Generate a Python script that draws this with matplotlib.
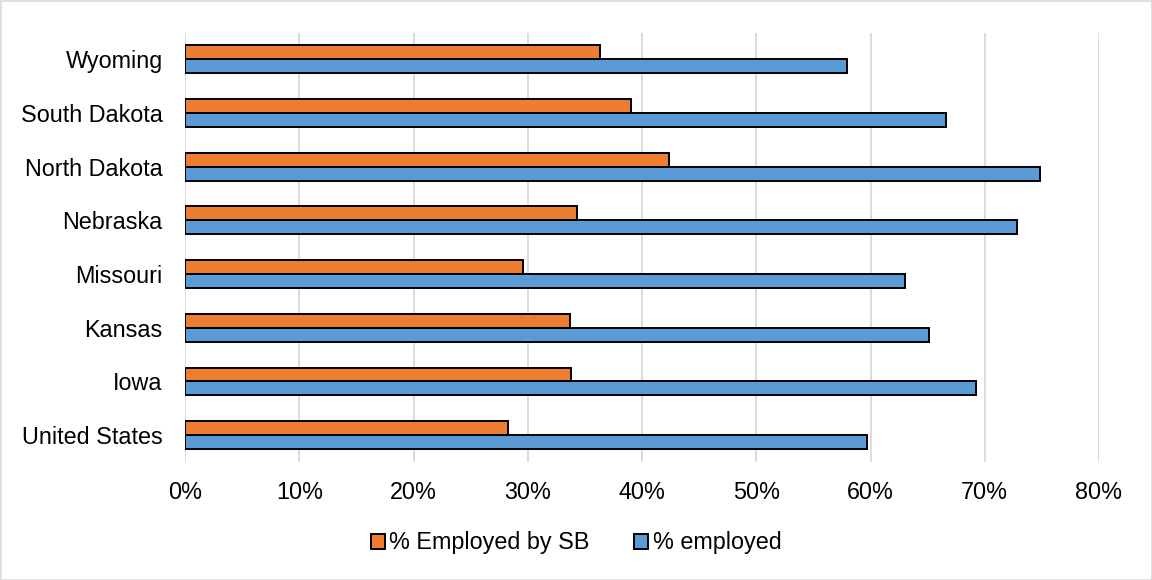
import matplotlib
matplotlib.use("Agg")
import matplotlib.pyplot as plt
from matplotlib.patches import Rectangle
from matplotlib.ticker import FuncFormatter

states = ["United States", "Iowa", "Kansas", "Missouri", "Nebraska",
          "North Dakota", "South Dakota", "Wyoming"]
employed_by_sb = [28.3, 33.8, 33.7, 29.6, 34.3, 42.4, 39.0, 36.3]
employed = [59.7, 69.2, 65.1, 63.0, 72.8, 74.8, 66.6, 57.9]
x_ticks = [0, 10, 20, 30, 40, 50, 60, 70, 80]
series_names = ["% Employed by SB", "% employed"]

ORANGE = "#ED7D31"
BLUE = "#5B9BD5"
GRID = "#D9D9D9"
FS = 16.8

plt.rcParams["font.family"] = ["Liberation Sans", "DejaVu Sans"]

fig = plt.figure(figsize=(11.52, 5.8), dpi=100)
fig.patch.set_facecolor("white")
fig.add_artist(Rectangle((0.5 / 1152, 0.5 / 580), 1 - 1 / 1152, 1 - 1 / 580,
                         transform=fig.transFigure, fill=False,
                         edgecolor=GRID, linewidth=1.2))

ax = fig.add_axes([185 / 1152, 118 / 580, 914 / 1152, 429.5 / 580])

pos = list(range(len(states)))
h = 0.26
ax.barh([p + h / 2 for p in pos], employed_by_sb, height=h, color=ORANGE,
        edgecolor="black", linewidth=1.4, label=series_names[0], zorder=3)
ax.barh([p - h / 2 for p in pos], employed, height=h, color=BLUE,
        edgecolor="black", linewidth=1.4, label=series_names[1], zorder=3)

ax.set_xlim(0, 80)
ax.set_ylim(-0.5, len(states) - 0.5)
ax.set_xticks(x_ticks)
ax.xaxis.set_major_formatter(FuncFormatter(lambda v, _: f"{v:.0f}%"))
ax.set_yticks(pos)
ax.set_yticklabels(states)
ax.tick_params(axis="both", length=0, labelsize=FS, colors="black")
ax.tick_params(axis="x", pad=14)
ax.tick_params(axis="y", pad=16)
ax.grid(axis="x", color=GRID, linewidth=1.3, zorder=0)
ax.set_axisbelow(True)
for s in ax.spines.values():
    s.set_visible(False)

fig.legend(loc="center", bbox_to_anchor=(0.5, 1 - 543 / 580), ncol=2,
           frameon=False, fontsize=FS, handlelength=0.6, handleheight=0.6,
           handletextpad=0.2, columnspacing=1.9)

fig.savefig("out.png", dpi=100)
